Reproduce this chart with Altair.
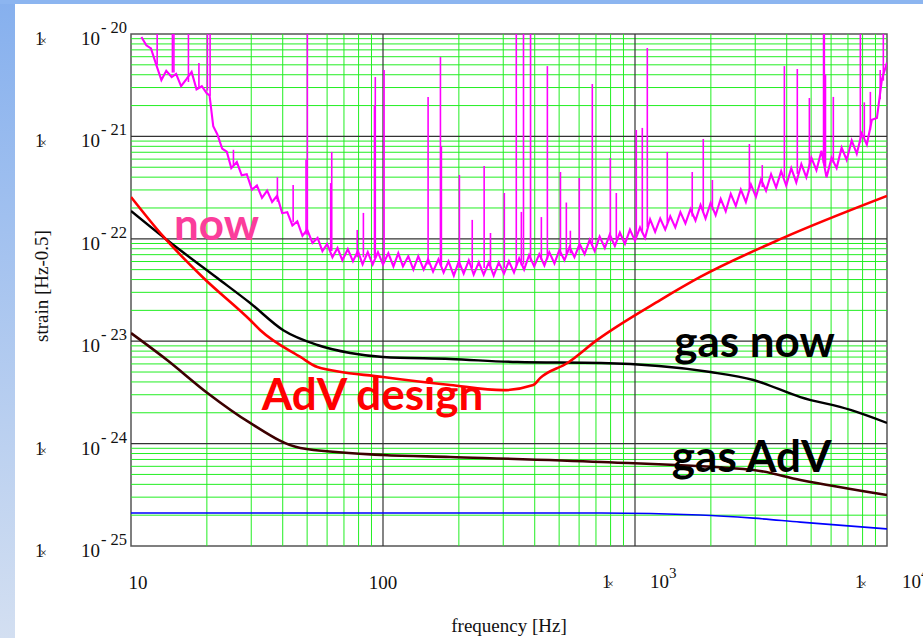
import altair as alt
import pandas as pd

# ---------------- data ----------------
# measured "now" sensitivity (noise floor, frequency in Hz, strain in 1/sqrt(Hz))
now_freq = [11.0, 11.5, 12.0, 12.6, 13.2, 13.8, 14.5, 15.1, 15.8, 16.6,
            17.4, 18.2, 19.1, 20.0, 20.5, 21.2, 22.0, 23.0, 24.0, 25.0,
            26.3, 27.5, 28.8, 30.2, 31.6, 33.1, 34.7, 36.3, 38.0, 39.8,
            41.7, 43.7, 45.7, 47.9, 50.0, 52.5, 55.0, 57.5, 60.0, 63.0,
            66.0, 69.0, 72.5, 76.0, 79.5, 83.0, 87.0, 91.0, 95.5, 100,
            105, 110, 115, 120, 126, 132, 138, 145, 151, 158,
            166, 174, 182, 191, 200, 209, 219, 229, 240, 251,
            263, 275, 288, 302, 316, 331, 347, 363, 380, 398,
            417, 437, 457, 479, 501, 525, 550, 575, 603, 631,
            661, 692, 724, 759, 794, 832, 871, 912, 955, 1000,
            1047, 1096, 1148, 1202, 1259, 1318, 1380, 1445, 1514, 1585,
            1660, 1738, 1820, 1905, 1995, 2089, 2188, 2291, 2399, 2512,
            2630, 2754, 2884, 3020, 3162, 3311, 3467, 3631, 3802, 3981,
            4169, 4365, 4571, 4786, 5012, 5248, 5495, 5754, 6026, 6310,
            6607, 6918, 7244, 7586, 7943, 8318, 8710, 9120, 9550, 10000]
now_asd = [9.33e-21, 7.76e-21, 7.24e-21, 5.0e-21, 3.55e-21, 4.37e-21, 3.8e-21, 4.07e-21, 3.09e-21, 3.63e-21,
           4.27e-21, 2.88e-21, 3.09e-21, 2.63e-21, 2.51e-21, 1.26e-21, 1.05e-21, 7.59e-22, 7.08e-22, 4.9e-22,
           5.62e-22, 4.17e-22, 4.27e-22, 3.02e-22, 3.31e-22, 2.51e-22, 2.95e-22, 2.29e-22, 2.63e-22, 1.78e-22,
           1.82e-22, 1.35e-22, 1.48e-22, 1.07e-22, 1.23e-22, 9.12e-23, 1.02e-22, 7.59e-23, 8.91e-23, 6.61e-23,
           8.13e-23, 6.17e-23, 7.94e-23, 6.03e-23, 7.59e-23, 5.62e-23, 7.41e-23, 5.62e-23, 7.41e-23, 5.62e-23,
           7.24e-23, 5.37e-23, 7.24e-23, 5.37e-23, 6.76e-23, 5.01e-23, 6.76e-23, 5.01e-23, 6.31e-23, 4.79e-23,
           6.31e-23, 4.68e-23, 6.03e-23, 4.37e-23, 6.03e-23, 4.57e-23, 6.17e-23, 4.47e-23, 5.89e-23, 4.47e-23,
           5.89e-23, 4.37e-23, 5.89e-23, 4.57e-23, 6.03e-23, 4.68e-23, 6.46e-23, 5.01e-23, 6.92e-23, 5.37e-23,
           7.08e-23, 5.5e-23, 7.41e-23, 5.75e-23, 7.76e-23, 6.17e-23, 8.32e-23, 6.61e-23, 8.91e-23, 7.08e-23,
           9.77e-23, 7.59e-23, 1.05e-22, 8.13e-23, 1.1e-22, 8.51e-23, 1.15e-22, 8.91e-23, 1.23e-22, 9.55e-23,
           1.29e-22, 1.02e-22, 1.55e-22, 1.17e-22, 1.58e-22, 1.23e-22, 1.66e-22, 1.29e-22, 1.82e-22, 1.41e-22,
           1.95e-22, 1.51e-22, 2.14e-22, 1.58e-22, 2.24e-22, 1.7e-22, 2.45e-22, 1.86e-22, 2.75e-22, 2.09e-22,
           3.02e-22, 2.29e-22, 3.39e-22, 2.57e-22, 3.8e-22, 2.95e-22, 4.27e-22, 3.16e-22, 4.57e-22, 3.31e-22,
           4.9e-22, 3.55e-22, 5.37e-22, 3.98e-22, 6.17e-22, 4.68e-22, 7.24e-22, 3.98e-22, 6.17e-22, 4.9e-22,
           7.76e-22, 5.89e-22, 9.12e-22, 6.76e-22, 1.07e-21, 8.32e-22, 1.45e-21, 1.51e-21, 3.63e-21, 5.25e-21]

# spectral lines of the "now" curve: frequency, peak value, floor value
spike_freq = [12.7, 14.6, 14.8, 16.9, 18.6, 20.1, 20.6, 25.5, 38.1, 44.0,
              49.5, 50.1, 62.0, 62.6, 79.0, 83.6, 92.5, 93.2, 101, 151,
              169, 170.5, 201, 226, 252, 267, 303, 338, 354, 361,
              385, 425, 449, 506, 534, 554, 601, 677, 798, 843,
              1012, 1069, 1119, 1343, 1687, 1866, 2028, 2844, 3199, 3915,
              4406, 4920, 5600, 5641, 5700, 6124, 7838, 8128, 8590, 9397, 9670]
spike_top = [2e-20, 2e-20, 2e-20, 2e-20, 5.2e-21, 2e-20, 2e-20, 7.4e-22, 4.0e-22, 3.35e-22,
             5.9e-22, 2e-20, 3.5e-22, 7.05e-22, 1.22e-22, 1.79e-22, 2.0e-21, 3.8e-21, 4.45e-21, 2.43e-21,
             5.96e-21, 8e-22, 4.2e-22, 1.53e-22, 5.14e-22, 1.14e-22, 2.8e-22, 2e-20, 1.83e-22, 2e-20,
             2e-20, 1.63e-22, 4.86e-21, 4.49e-22, 2.26e-22, 1.2e-22, 3.92e-22, 3.25e-21, 6.15e-22, 2.8e-22,
             1.155e-21, 1.21e-21, 7.3e-21, 7.05e-22, 4.49e-22, 9.44e-22, 3.75e-22, 8.43e-22, 5.25e-22, 4.86e-21,
             4.55e-21, 2.37e-21, 2e-20, 2e-20, 4e-21, 2.43e-21, 2e-20, 2.15e-21, 2.72e-21, 4.45e-21, 2e-20]
spike_base = [5.0e-21, 4.2e-21, 4.2e-21, 3.4e-21, 3.0e-21, 2.8e-21, 2.5e-21, 5.2e-22, 2.3e-22, 1.45e-22,
              1.1e-22, 1.1e-22, 7.6e-23, 7.6e-23, 6.6e-23, 6.6e-23, 6.5e-23, 6.5e-23, 6.3e-23, 5.6e-23,
              5.5e-23, 5.5e-23, 5.2e-23, 5.2e-23, 5.2e-23, 5.1e-23, 5.2e-23, 5.4e-23, 5.5e-23, 5.6e-23,
              6.0e-23, 6.2e-23, 6.3e-23, 6.8e-23, 7.0e-23, 7.2e-23, 7.8e-23, 8.5e-23, 9.5e-23, 9.8e-23,
              1.1e-22, 1.15e-22, 1.3e-22, 1.42e-22, 1.65e-22, 1.8e-22, 1.9e-22, 2.9e-22, 3.2e-22, 4.0e-22,
              4.3e-22, 5.0e-22, 5.5e-22, 5.5e-22, 5.0e-22, 5.5e-22, 8.7e-22, 9.5e-22, 1.15e-21, 2.3e-21, 3.5e-21]

# AdV design sensitivity
adv_freq = [10, 13.4, 19.4, 29.7, 32.6, 47, 54.9, 100, 185, 300, 395, 421, 539, 708, 1259, 1815, 3873, 10000]
adv_asd = [2.56e-22, 1.06e-22, 4.14e-23, 1.61e-23, 1.28e-23, 7.02e-24, 5.6e-24, 4.47e-24, 3.73e-24,
           3.33e-24, 3.73e-24, 4.38e-24, 6.12e-24, 1.03e-23, 2.52e-23, 4.24e-23, 1.02e-22, 2.62e-22]

# residual gas noise, present pressure
gas_now_freq = [10, 13.9, 22.0, 29.7, 40.2, 54.9, 74.1, 100, 185, 341, 734, 1990, 2951, 4530, 7161, 10000]
gas_now_asd = [1.87e-22, 9.72e-23, 4.14e-23, 2.36e-23, 1.28e-23, 9.18e-24, 7.67e-24, 7.02e-24,
               6.70e-24, 6.26e-24, 6.12e-24, 5.0e-24, 4.18e-24, 2.85e-24, 2.13e-24, 1.59e-24]

# residual gas noise, AdV pressure
gas_adv_freq = [10, 13.9, 20.1, 29.7, 47, 100, 185, 734, 2951, 4530, 10000]
gas_adv_asd = [1.20e-23, 6.55e-24, 3.12e-24, 1.59e-24, 9.06e-25, 7.74e-25, 7.40e-25, 6.61e-25,
               5.52e-25, 4.42e-25, 3.15e-25]

# lowest curve (blue)
low_freq = [10, 734, 1815, 2951, 4530, 10000]
low_asd = [2.10e-25, 2.10e-25, 2.01e-25, 1.87e-25, 1.71e-25, 1.47e-25]

# annotations
note_text = ["now", "AdV design", "gas now", "gas AdV"]
note_freq = [14.8, 33.0, 1430, 1400]
note_asd = [9.7e-23, 2.13e-24, 7.0e-24, 5.3e-25]
note_color = ["#fb3d9b", "#ff0000", "#000000", "#000000"]

# axis ticks / grid
y_decades = [1e-20, 1e-21, 1e-22, 1e-23, 1e-24, 1e-25]
y_exponents = ["- 20", "- 21", "- 22", "- 23", "- 24", "- 25"]
minor_mult = [2, 3, 4, 5, 6, 7, 8, 9]
x_minor = [m * d for d in [10, 100, 1000] for m in minor_mult]
y_minor = [m * d for d in [1e-25, 1e-24, 1e-23, 1e-22, 1e-21] for m in minor_mult]
x_major = [100, 1000]
y_major = [1e-24, 1e-23, 1e-22, 1e-21]

# ---------------- chart ----------------
W, H = 756, 512
xs = alt.Scale(type="log", domain=[10, 10000])
ys = alt.Scale(type="log", domain=[1e-25, 1e-20])
SERIF = "Liberation Serif"
one = pd.DataFrame({"a": [0]})


def curve(freq, asd, color, width, smooth=True):
    df = pd.DataFrame({"f": freq, "h": asd})
    kw = dict(color=color, strokeWidth=width, clip=True)
    if smooth:
        kw["interpolate"] = "monotone"
    return alt.Chart(df).mark_line(**kw).encode(
        x=alt.X("f:Q", scale=xs, axis=None),
        y=alt.Y("h:Q", scale=ys, axis=None),
    )


def fixed_text(txt, x, y, size, align="left", angle=0, font=SERIF):
    kw = dict(text=txt, font=font, fontSize=size, align=align, baseline="alphabetic", color="#111")
    if angle:
        kw["angle"] = angle
        kw["baseline"] = "middle"
    return alt.Chart(one).mark_text(**kw).encode(x=alt.value(x), y=alt.value(y))


strip_left = alt.Chart(one).mark_rect(
    color=alt.LinearGradient(gradient="linear",
                             stops=[alt.GradientStop(offset=0, color="#86b0ee"),
                                    alt.GradientStop(offset=1, color="#d3dff1")],
                             x1=0, x2=0, y1=0, y2=1)
).encode(x=alt.value(-131), x2=alt.value(-116), y=alt.value(-34), y2=alt.value(604))
strip_top = alt.Chart(one).mark_rect(color="#8cb5f0").encode(
    x=alt.value(-131), x2=alt.value(792), y=alt.value(-34), y2=alt.value(-30))

gx = alt.Chart(pd.DataFrame({"v": x_minor})).mark_rule(color="#22ee22", strokeWidth=1).encode(
    x=alt.X("v:Q", scale=xs, axis=None))
gy = alt.Chart(pd.DataFrame({"v": y_minor})).mark_rule(color="#22ee22", strokeWidth=1).encode(
    y=alt.Y("v:Q", scale=ys, axis=None))
mx = alt.Chart(pd.DataFrame({"v": x_major})).mark_rule(color="#333333", strokeWidth=1.2).encode(
    x=alt.X("v:Q", scale=xs, axis=None))
my = alt.Chart(pd.DataFrame({"v": y_major})).mark_rule(color="#333333", strokeWidth=1.2).encode(
    y=alt.Y("v:Q", scale=ys, axis=None))

now_line = curve(now_freq, now_asd, "#ff00ff", 2.1, smooth=False)
spikes = alt.Chart(pd.DataFrame({"f": spike_freq, "t": spike_top, "b": spike_base})).mark_rule(
    color="#ff00ff", strokeWidth=1.6, clip=True).encode(
    x=alt.X("f:Q", scale=xs, axis=None), y=alt.Y("t:Q", scale=ys, axis=None), y2="b:Q")

low_line = curve(low_freq, low_asd, "#0000ff", 1.6)
gas_adv_line = curve(gas_adv_freq, gas_adv_asd, "#3c0000", 2.6)
gas_now_line = curve(gas_now_freq, gas_now_asd, "#000000", 2.4)
adv_line = curve(adv_freq, adv_asd, "#ff0000", 2.6)

notes = alt.Chart(pd.DataFrame({"f": note_freq, "h": note_asd, "t": note_text, "c": note_color})).mark_text(
    font="Lato", fontWeight="bold", fontSize=44, align="left", baseline="alphabetic").encode(
    x=alt.X("f:Q", scale=xs, axis=None), y=alt.Y("h:Q", scale=ys, axis=None),
    text="t:N", color=alt.Color("c:N", scale=None))

ylab_df = pd.DataFrame({"v": y_decades, "e": y_exponents})
ylab_base = alt.Chart(ylab_df).mark_text(font=SERIF, fontSize=19, align="right", baseline="alphabetic",
                                         dy=11, text="10", color="#111").encode(
    x=alt.value(-31), y=alt.Y("v:Q", scale=ys, axis=None))
ylab_exp = alt.Chart(ylab_df).mark_text(font=SERIF, fontSize=16.5, align="left", baseline="alphabetic",
                                        dy=-1, color="#111").encode(
    x=alt.value(-30), y=alt.Y("v:Q", scale=ys, axis=None), text="e:N")
art_df = pd.DataFrame({"v": [1e-20, 1e-21, 1e-24, 1e-25]})
ylab_art1 = alt.Chart(art_df).mark_text(font=SERIF, fontSize=18, align="left", baseline="alphabetic",
                                        dy=11, text="1", color="#111").encode(
    x=alt.value(-96), y=alt.Y("v:Q", scale=ys, axis=None))
ylab_art2 = alt.Chart(art_df).mark_text(font=SERIF, fontSize=12, align="left", baseline="alphabetic",
                                        dy=11, text="×", color="#111").encode(
    x=alt.value(-91), y=alt.Y("v:Q", scale=ys, axis=None))

xl = [
    fixed_text("10", 7, 555, 19, align="center"),
    fixed_text("100", 252, 555, 19, align="center"),
    fixed_text("10", 519, 554, 19),
    fixed_text("3", 538, 544, 15),
    fixed_text("10", 771, 554, 19),
    fixed_text("4", 790, 544, 15),
    fixed_text("1", 471, 554, 18),
    fixed_text("×", 476, 554, 12),
    fixed_text("1", 724, 554, 18),
    fixed_text("×", 729, 554, 12),
    fixed_text("frequency [Hz]", 378, 598, 19, align="center"),
    fixed_text("strain [Hz-0.5]", -89, 252, 19, align="center", angle=270),
]

chart = alt.layer(
    strip_left, strip_top, gx, gy, mx, my,
    now_line, spikes, low_line, gas_adv_line, gas_now_line, adv_line,
    notes, ylab_base, ylab_exp, ylab_art1, ylab_art2, *xl
).properties(
    width=W, height=H,
    padding={"left": 131, "top": 34, "right": 36, "bottom": 92},
    autosize=alt.AutoSizeParams(type="none"),
    background="white",
).configure_view(stroke="#555555", strokeWidth=1.5)

chart.save("out.html", embed_options={"renderer": "svg", "actions": False})
